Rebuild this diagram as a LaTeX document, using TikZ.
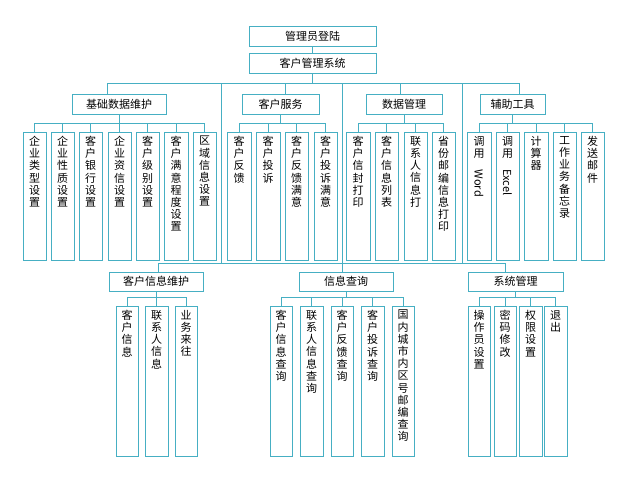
\documentclass[tikz,border=0pt]{standalone}
\usepackage{fontspec}
\newfontfamily\cjk{Noto Sans CJK SC}
\definecolor{ln}{RGB}{70,175,195}
\tikzset{
  bx/.style={draw=ln,line width=0.9pt,inner sep=0,font=\cjk\fontsize{11}{12}\selectfont},
  vt/.style={inner sep=0,anchor=north,align=center,font=\cjk\fontsize{11}{12.2}\selectfont},
  cn/.style={draw=ln,line width=0.9pt}
}
% \lf{name}{x1}{x2}{ytop}{ybot}{text}
\newcommand\lf[6]{%
  \pgfmathsetmacro\cx{(#2+#3)/2}\pgfmathsetmacro\ww{#3-#2}\pgfmathsetmacro\hh{#5-#4}%
  \node[bx,anchor=north,minimum width=\ww pt,minimum height=\hh pt] (#1) at (\cx,#4) {};
  \node[vt] (#1t) at ([yshift=-4pt]#1.north) {#6};
  \draw[cn] (#1.north) -- (#1.north|-0,#4-9);
}
\newcommand\bx[6]{%
  \pgfmathsetmacro\cx{(#2+#3)/2}\pgfmathsetmacro\cy{(#4+#5)/2}\pgfmathsetmacro\ww{#3-#2}\pgfmathsetmacro\hh{#5-#4}%
  \node[bx,minimum width=\ww pt,minimum height=\hh pt] (#1) at (\cx,\cy) {#6};
}
\begin{document}
\begin{tikzpicture}[x=1pt,y=-1pt]
\useasboundingbox (0,0) rectangle (619,496);
\bx{top}{249}{376}{26}{46}{管理员登陆}
\bx{sys}{249}{376}{53}{73}{客户管理系统}
\draw[cn] (top.south) -- (sys.north);
\draw[cn] (sys.south) -- (sys.south|-0,83);
\bx{a}{72}{166}{94}{114}{基础数据维护}
\bx{b}{242}{319}{94}{114}{客户服务}
\bx{c}{366}{442}{94}{114}{数据管理}
\bx{d}{480}{545}{94}{114}{辅助工具}
\draw[cn] (107,94) -- (107,83) -- (519,83) -- (519,94);
\draw[cn] (285,83) -- (285,94);
\draw[cn] (400,83) -- (400,94);
\draw[cn] (221,83) -- (221,263);
\draw[cn] (342,83) -- (342,263);
\draw[cn] (462,83) -- (462,263);
% leaves level 1
\lf{a1}{23}{46}{132}{260}{企\\业\\类\\型\\设\\置}
\lf{a2}{51}{74}{132}{260}{企\\业\\性\\质\\设\\置}
\lf{a3}{79}{102}{132}{260}{客\\户\\银\\行\\设\\置}
\lf{a4}{108}{131}{132}{260}{企\\业\\资\\信\\设\\置}
\lf{a5}{136}{159}{132}{260}{客\\户\\级\\别\\设\\置}
\lf{a6}{164}{188}{132}{260}{客\\户\\满\\意\\程\\度\\设\\置}
\lf{a7}{193}{216}{132}{260}{区\\域\\信\\息\\设\\置}
\draw[cn] (a.south) -- (a.south|-0,123); \draw[cn] (a1.north|-0,123) -- (a7.north|-0,123);
\lf{b1}{227}{251}{132}{260}{客\\户\\反\\馈}
\lf{b2}{256}{280}{132}{260}{客\\户\\投\\诉}
\lf{b3}{285}{308}{132}{260}{客\\户\\反\\馈\\满\\意}
\lf{b4}{314}{337}{132}{260}{客\\户\\投\\诉\\满\\意}
\draw[cn] (b.south) -- (b.south|-0,123); \draw[cn] (b1.north|-0,123) -- (b4.north|-0,123);
\lf{c1}{346}{370}{132}{260}{客\\户\\信\\封\\打\\印}
\lf{c2}{375}{398}{132}{260}{客\\户\\信\\息\\列\\表}
\lf{c3}{404}{427}{132}{260}{联\\系\\人\\信\\息\\打}
\lf{c4}{432}{455}{132}{260}{省\\份\\邮\\编\\信\\息\\打\\印}
\draw[cn] (c.south) -- (c.south|-0,123); \draw[cn] (c1.north|-0,123) -- (c4.north|-0,123);
\lf{d1}{467}{491}{132}{260}{调\\用\\\rotatebox{-90}{Word}}
\lf{d2}{496}{519}{132}{260}{调\\用\\\rotatebox{-90}{Excel}}
\lf{d3}{524}{548}{132}{260}{计\\算\\器}
\lf{d4}{553}{576}{132}{260}{工\\作\\业\\务\\备\\忘\\录}
\lf{d5}{581}{604}{132}{260}{发\\送\\邮\\件}
\draw[cn] (d.south) -- (d.south|-0,123); \draw[cn] (d1.north|-0,123) -- (d5.north|-0,123);
% lower level
\draw[cn] (158,272) -- (158,263) -- (505,263) -- (505,272);
\draw[cn] (342,263) -- (342,272);
\bx{e}{109}{203}{272}{291}{客户信息维护}
\bx{f}{299}{393}{272}{291}{信息查询}
\bx{g}{468}{563}{272}{291}{系统管理}
\lf{e1}{116}{138}{306}{456}{客\\户\\信\\息}
\lf{e2}{145}{168}{306}{456}{联\\系\\人\\信\\息}
\lf{e3}{175}{197}{306}{456}{业\\务\\来\\往}
\draw[cn] (e.south) -- (e.south|-0,297); \draw[cn] (e1.north|-0,297) -- (e3.north|-0,297);
\lf{f1}{270}{292}{306}{456}{客\\户\\信\\息\\查\\询}
\lf{f2}{300}{323}{306}{456}{联\\系\\人\\信\\息\\查\\询}
\lf{f3}{331}{353}{306}{456}{客\\户\\反\\馈\\查\\询}
\lf{f4}{361}{384}{306}{456}{客\\户\\投\\诉\\查\\询}
\lf{f5}{392}{414}{306}{456}{国\\内\\城\\市\\内\\区\\号\\邮\\编\\查\\询}
\draw[cn] (f.south) -- (f.south|-0,297); \draw[cn] (f1.north|-0,297) -- (f5.north|-0,297);
\lf{g1}{468}{490}{306}{456}{操\\作\\员\\设\\置}
\lf{g2}{494}{516}{306}{456}{密\\码\\修\\改}
\lf{g3}{519}{542}{306}{456}{权\\限\\设\\置}
\lf{g4}{544}{567}{306}{456}{退\\出}
\draw[cn] (g.south) -- (g.south|-0,297); \draw[cn] (g1.north|-0,297) -- (g4.north|-0,297);
\end{tikzpicture}
\end{document}
